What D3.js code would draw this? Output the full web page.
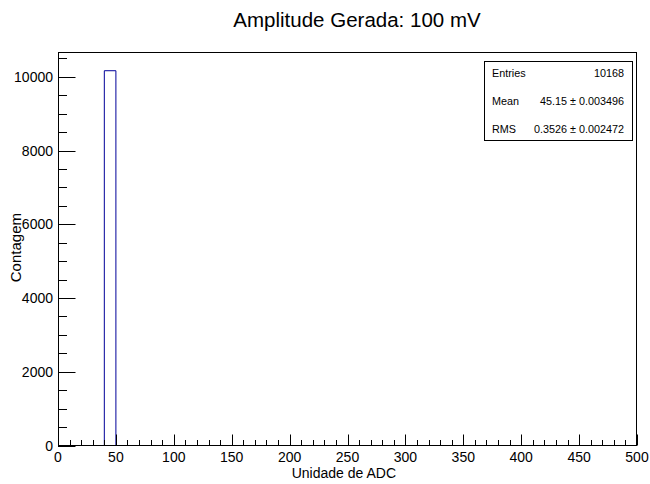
<!DOCTYPE html>
<html>
<head>
<meta charset="utf-8">
<script src="https://cdn.jsdelivr.net/npm/d3@7"></script>
<style>
  html, body { margin: 0; padding: 0; background: #fff; }
  svg { display: block; font-family: "Liberation Sans", Arial, Helvetica, sans-serif; }
</style>
</head>
<body>
<svg id="chart" width="650" height="484"></svg>
<script>
// ---- data ----
const title = "Amplitude Gerada: 100 mV";
const xLabel = "Unidade de ADC";
const yLabel = "Contagem";
const binEdges = [40, 50];          // the only non-empty bin
const binCounts = [10168];
const xDomain = [0, 500];
const yDomain = [0, 10676];
const xMajorTicks = [0, 50, 100, 150, 200, 250, 300, 350, 400, 450, 500];
const yMajorTicks = [0, 2000, 4000, 6000, 8000, 10000];
const statsLabels = ["Entries", "Mean", "RMS"];
const statsValues = ["10168", "45.15 \u00b1 0.003496", "0.3526 \u00b1 0.002472"];

// ---- layout ----
const svg = d3.select("#chart");
const L = 58, R = 637, T = 52, B = 445.5;
const x = d3.scaleLinear().domain(xDomain).range([L, R]);
const y = d3.scaleLinear().domain(yDomain).range([B, T]);

// title
svg.append("text").attr("x", 357).attr("y", 27).attr("text-anchor", "middle")
  .attr("font-size", 20.5).attr("fill", "#000").text(title);

// histogram bar (ROOT style: outline only)
const x0 = x(binEdges[0]), x1 = x(binEdges[1]), yt = y(binCounts[0]);
svg.append("path")
  .attr("d", `M${x0},${B}L${x0},${yt}L${x1},${yt}L${x1},${B}`)
  .attr("fill", "none").attr("stroke", "#000099").attr("stroke-width", 1);

// x axis ticks
const xMinor = d3.range(xDomain[0], xDomain[1] + 1, 10);
const gx = svg.append("g");
xMinor.forEach(v => {
  const major = v % 50 === 0;
  const px = Math.round(x(v)) + 0.5;
  gx.append("line").attr("x1", px).attr("x2", px)
    .attr("y1", B).attr("y2", B - (major ? 11 : 5.5))
    .attr("stroke", "#000").attr("stroke-width", 1);
});
xMajorTicks.forEach(v => {
  gx.append("text").attr("x", x(v)).attr("y", 462)
    .attr("text-anchor", "middle").attr("font-size", 14).attr("fill", "#000")
    .text(v);
});

// y axis ticks
const yMinor = d3.range(0, yDomain[1], 500);
const gy = svg.append("g");
yMinor.forEach(v => {
  const major = v % 2000 === 0;
  const py = Math.round(y(v)) + 0.5;
  gy.append("line").attr("x1", L).attr("x2", L + (major ? 17.5 : 9))
    .attr("y1", py).attr("y2", py)
    .attr("stroke", "#000").attr("stroke-width", 1);
});
yMajorTicks.forEach(v => {
  gy.append("text").attr("x", 53).attr("y", y(v) + 5)
    .attr("text-anchor", "end").attr("font-size", 14).attr("fill", "#000")
    .text(v);
});

// frame
svg.append("rect").attr("x", L + 0.5).attr("y", T + 0.5)
  .attr("width", R - L - 1).attr("height", B - T - 0.5)
  .attr("fill", "none").attr("stroke", "#000").attr("stroke-width", 1);

// axis titles
svg.append("text").attr("x", 396).attr("y", 478).attr("text-anchor", "end")
  .attr("font-size", 14).attr("fill", "#000").text(xLabel);
svg.append("text").attr("transform", "translate(20.5,213) rotate(-90)")
  .attr("text-anchor", "end").attr("font-size", 15).attr("fill", "#000").text(yLabel);

// stats box
const sb = { x: 484, y: 61, w: 148, h: 79 };
svg.append("rect").attr("x", sb.x + 0.5).attr("y", sb.y + 0.5)
  .attr("width", sb.w).attr("height", sb.h)
  .attr("fill", "#fff").attr("stroke", "#000").attr("stroke-width", 1);
const rowY = [77, 105, 133];
statsLabels.forEach((lab, i) => {
  svg.append("text").attr("x", 492).attr("y", rowY[i]).attr("font-size", 10.8)
    .attr("fill", "#000").text(lab);
  svg.append("text").attr("x", 624).attr("y", rowY[i]).attr("text-anchor", "end")
    .attr("font-size", 10.8).attr("fill", "#000").text(statsValues[i]);
});
</script>
</body>
</html>
